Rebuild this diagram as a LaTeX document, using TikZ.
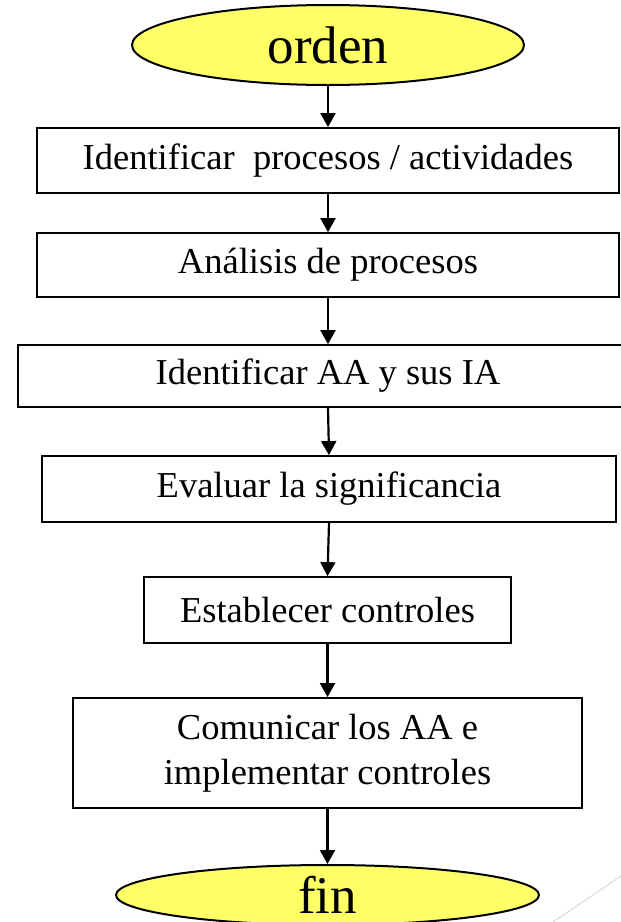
\documentclass[tikz,border=0pt]{standalone}
\usepackage{fontspec}
\setmainfont{Liberation Serif}
\usepackage{tikz}
\usetikzlibrary{shapes.geometric, arrows.meta}

\definecolor{amarillo}{RGB}{255,255,102}

\tikzset{
caja/.style = {draw, line width = 1.8pt, inner sep = 0pt, align = center, font = \fontsize{36.5}{45}\selectfont},
terminal/.style = {ellipse, draw, line width = 2pt, fill = amarillo, inner sep = 0pt, font = \fontsize{53}{60}\selectfont},
flecha/.style = {line width = 2.2pt, -{Triangle[width = 15pt, length = 14pt]}}
}

\begin{document}
\begin{tikzpicture}[x = 1pt, y = -1pt]
\useasboundingbox (0, 0) rectangle (621, 922);
\clip (0, 0) rectangle (621, 922);

\node (orden) at (328, 45) [terminal, minimum width = 392pt, minimum height = 80pt] {orden};

\node (b1) at (328, 160.5) [caja, minimum width = 582pt, minimum height = 65pt] {Identificar~ procesos / actividades};
\node (b2) at (328, 265) [caja, minimum width = 582pt, minimum height = 64pt] {Análisis de procesos};
\node (b3) at (328, 376) [caja, minimum width = 620pt, minimum height = 62pt] {Identificar AA y sus IA};
\node (b4) at (329, 489) [caja, minimum width = 574pt, minimum height = 66pt] {Evaluar la significancia};
\node (b5) at (327.5, 610) [caja, minimum width = 367pt, minimum height = 66pt] {Establecer controles};
\node (b6) at (327.5, 753) [caja, minimum width = 509pt, minimum height = 110pt] {Comunicar los AA e\\implementar controles};

\node (fin) at (327.5, 895) [terminal, minimum width = 423pt, minimum height = 60pt] {fin};

\draw[flecha] (orden.south) -- (b1.north);
\draw[flecha] (b1.south) -- (b2.north);
\draw[flecha] (b2.south) -- (b3.north);
\draw[flecha] (b3.south) -- (b4.north);
\draw[flecha] (b4.south) -- (b5.north);
\draw[flecha] (b5.south) -- (b6.north);
\draw[flecha] (b6.south) -- (fin.north);

\draw[black!15, line width = 1pt] (553, 922) -- (621, 876);

\end{tikzpicture}
\end{document}
